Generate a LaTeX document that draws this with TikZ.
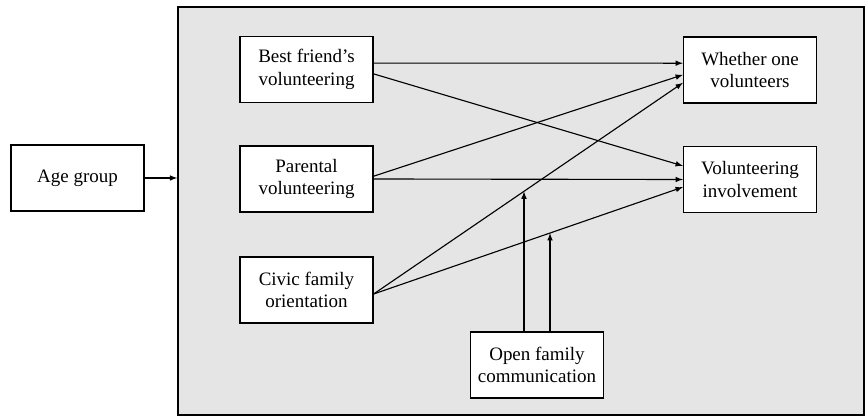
\documentclass[tikz,border=0pt]{standalone}
\usepackage{fontspec}
\setmainfont{Liberation Serif}
\usetikzlibrary{arrows}
\usetikzlibrary{positioning}
\tikzset{var/.style = {draw, line width = 1pt, fill = white, align = center, minimum width = 3.32cm, minimum height = 1.65cm, inner sep = 0, font = \fontsize{13.5}{16}\selectfont}}
\tikzset{link/.style = {-latex, line width = 0.8pt}}

\begin{document}
\begin{tikzpicture}[x = 0.025cm, y = -0.025cm]
    \useasboundingbox (0, 0) rectangle (866, 418);

    \node [draw, line width = 1pt, fill = gray!20, minimum width = 17.15cm, minimum height = 10.2cm] (panel) at (521, 211) {};

    \node [var] (age) at (77.5, 178) {Age group};

    \node [var] (best) at (306.5, 69.5) {Best friend's\\volunteering};
    \node [var] (par) at (306.5, 179) {Parental\\volunteering};
    \node [var] (civ) at (306.5, 290) {Civic family\\orientation};

    \node [var] (who) at (750, 70) {Whether one\\volunteers};
    \node [var] (inv) at (750, 179.5) {Volunteering\\involvement};

    \node [var] (open) at (537, 365) {Open family\\communication};

    \draw [link] (age.east) -- (age.east -| panel.west);

    \draw [link] ([yshift = 0.16cm]best.east) -- ([yshift = 0.17cm]who.west);
    \draw [link] ([yshift = -0.11cm]best.east) -- ([yshift = 0.34cm]inv.west);

    \draw [link] ([yshift = 0.07cm]par.east) -- ([yshift = -0.12cm]who.west);
    \draw [link] (par.east) -- (inv.west);

    \coordinate (civout) at ([yshift = -0.1cm]civ.east);
    \draw [link] (civout) -- coordinate [pos = 0.4855] (mod1) ([yshift = -0.32cm]who.west);
    \draw [link] (civout) -- coordinate [pos = 0.569] (mod2) ([yshift = -0.19cm]inv.west);

    \draw [link] ([xshift = -0.325cm]open.north) -- ([xshift = -0.325cm]open.north |- mod1);
    \draw [link] ([xshift = 0.325cm]open.north) -- ([xshift = 0.325cm]open.north |- mod2);
  \end{tikzpicture}
\end{document}
